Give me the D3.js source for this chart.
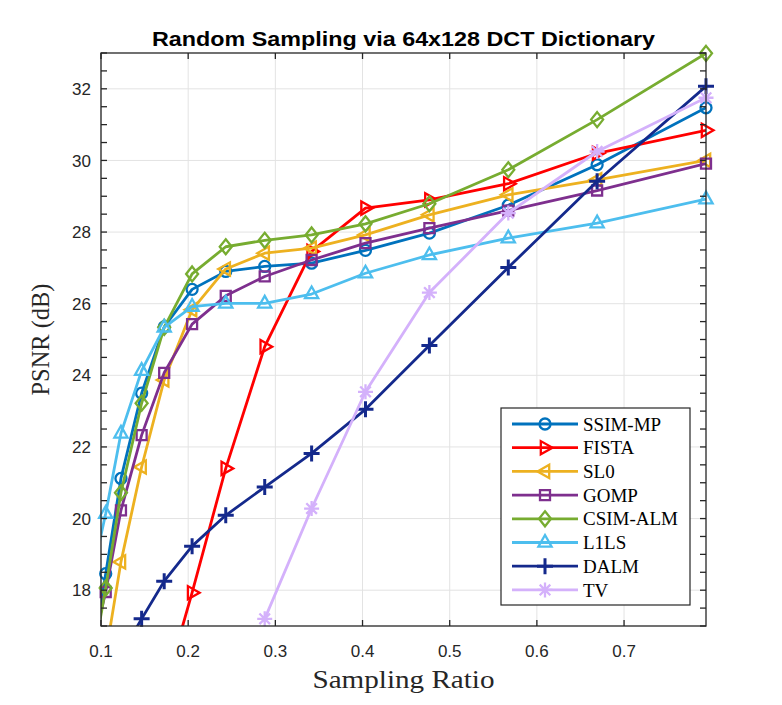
<!DOCTYPE html>
<html>
<head>
<meta charset="utf-8">
<script src="https://cdn.jsdelivr.net/npm/d3@7.9.0/dist/d3.min.js"></script>
<style>
  body { margin: 0; background: #fff; }
  svg { display: block; }
</style>
</head>
<body>
<svg id="chart" width="782" height="705"></svg>
<script>
// sampling ratios (shared x grid)
const ratio = [0.089, 0.1054, 0.1229, 0.1466, 0.1725, 0.2045, 0.2431, 0.2878, 0.3416, 0.4034, 0.4767, 0.5672, 0.6691, 0.794];

// PSNR per method, null = not measured
const ssimMP  = [16.0, 18.46, 21.12, 23.5, 25.35, 26.4, 26.9, 27.04, 27.13, 27.49, 27.97, 28.75, 29.88, 31.47];
const fista   = [null, null, null, null, 15.2, 17.93, 21.4, 24.8, 27.46, 28.67, 28.9, 29.35, 30.2, 30.84];
const sl0     = [null, 16.2, 18.79, 21.44, 23.87, 25.83, 26.97, 27.41, 27.55, 27.92, 28.48, 29.04, 29.46, 30.0];
const gomp    = [16.3, 17.95, 20.23, 22.33, 24.07, 25.43, 26.22, 26.76, 27.22, 27.69, 28.11, 28.6, 29.16, 29.91];
const csimALM = [15.8, 18.06, 20.72, 23.22, 25.34, 26.83, 27.59, 27.77, 27.92, 28.23, 28.79, 29.74, 31.14, 32.99];
const l1ls    = [18.3, 20.14, 22.38, 24.13, 25.34, 25.92, 26.01, 26.01, 26.27, 26.85, 27.36, 27.83, 28.25, 28.92];
const dalm    = [null, null, 16.2, 17.2, 18.25, 19.23, 20.09, 20.88, 21.82, 23.05, 24.83, 27.01, 29.42, 32.07];
const tv      = [null, null, null, null, null, null, null, 17.2, 20.28, 23.54, 26.31, 28.53, 30.25, 31.75];

const xTicks = [0.1, 0.2, 0.3, 0.4, 0.5, 0.6, 0.7];
const yTicks = [18, 20, 22, 24, 26, 28, 30, 32];

const methods = [
  { name: 'SSIM-MP',  values: ssimMP,  color: '#0072BD', marker: 'o' },
  { name: 'FISTA',    values: fista,   color: '#FF0000', marker: '>' },
  { name: 'SL0',      values: sl0,     color: '#EDB120', marker: '<' },
  { name: 'GOMP',     values: gomp,    color: '#7E2F8E', marker: 's' },
  { name: 'CSIM-ALM', values: csimALM, color: '#77AC30', marker: 'd' },
  { name: 'L1LS',     values: l1ls,    color: '#4DBEEE', marker: '^' },
  { name: 'DALM',     values: dalm,    color: '#14298C', marker: '+' },
  { name: 'TV',       values: tv,      color: '#D4B1FB', marker: '*' }
];

const plot = { left: 101, right: 706, top: 53, bottom: 626 };
const svg = d3.select('#chart');

const x = d3.scaleLinear().domain([0.1, 0.794]).range([plot.left, plot.right]);
const y = d3.scaleLinear().domain([17, 33]).range([plot.bottom, plot.top]);

function markerPath(m) {
  switch (m) {
    case 'o': return 'M5.5,0A5.5,5.5 0 1,1 -5.5,0A5.5,5.5 0 1,1 5.5,0Z';
    case 's': return 'M-5,-5H5V5H-5Z';
    case 'd': return 'M0,-7.5L6,0L0,7.5L-6,0Z';
    case '^': return 'M0,-7.5L6.6,4.2L-6.6,4.2Z';
    case '>': return 'M7.5,0L-4.2,-6.6L-4.2,6.6Z';
    case '<': return 'M-7.5,0L4.2,-6.6L4.2,6.6Z';
    case '+': return 'M-8,0H8M0,-8V8';
    case '*': return 'M-7.5,0H7.5M0,-7.5V7.5M-5.3,-5.3L5.3,5.3M-5.3,5.3L5.3,-5.3';
  }
}

// grid
svg.append('g').selectAll('line').data(xTicks).join('line')
  .attr('x1', d => x(d)).attr('x2', d => x(d)).attr('y1', plot.top).attr('y2', plot.bottom)
  .attr('stroke', '#e3e3e3').attr('stroke-width', 1);
svg.append('g').selectAll('line').data(yTicks).join('line')
  .attr('x1', plot.left).attr('x2', plot.right).attr('y1', d => y(d)).attr('y2', d => y(d))
  .attr('stroke', '#e3e3e3').attr('stroke-width', 1);

// series
svg.append('defs').append('clipPath').attr('id', 'plot-clip')
  .append('rect').attr('x', plot.left).attr('y', plot.top)
  .attr('width', plot.right - plot.left).attr('height', plot.bottom - plot.top);

const line = d3.line()
  .defined(d => d[1] != null)
  .x(d => x(d[0])).y(d => y(d[1]));

methods.forEach(m => {
  const pts = ratio.map((r, i) => [r, m.values[i]]);
  svg.append('path')
    .attr('d', line(pts))
    .attr('clip-path', 'url(#plot-clip)')
    .attr('fill', 'none')
    .attr('stroke', m.color)
    .attr('stroke-width', 2.8)
    .attr('stroke-linejoin', 'round');
  const visible = pts.filter(d => d[1] != null && d[0] >= 0.1 && d[1] >= 17 && d[1] <= 33.05);
  svg.append('g').selectAll('path').data(visible).join('path')
    .attr('transform', d => `translate(${x(d[0])},${y(d[1])})`)
    .attr('d', markerPath(m.marker))
    .attr('fill', 'none')
    .attr('stroke', m.color)
    .attr('stroke-width', m.marker === '+' ? 3 : 2.3);
});

// axes box and ticks
const axisColor = '#262626';
const tickLen = 6;
const ax = svg.append('g').attr('stroke', axisColor).attr('stroke-width', 1.3);
ax.append('rect').attr('x', plot.left).attr('y', plot.top)
  .attr('width', plot.right - plot.left).attr('height', plot.bottom - plot.top).attr('fill', 'none');
xTicks.forEach(t => {
  ax.append('line').attr('x1', x(t)).attr('x2', x(t)).attr('y1', plot.bottom).attr('y2', plot.bottom - tickLen);
  ax.append('line').attr('x1', x(t)).attr('x2', x(t)).attr('y1', plot.top).attr('y2', plot.top + tickLen);
});
d3.range(17, 33.01, 0.5).forEach(t => {
  ax.append('line').attr('x1', plot.left).attr('x2', plot.left + tickLen).attr('y1', y(t)).attr('y2', y(t));
  ax.append('line').attr('x1', plot.right).attr('x2', plot.right - tickLen).attr('y1', y(t)).attr('y2', y(t));
});

// tick labels
svg.append('g').selectAll('text').data(xTicks).join('text')
  .attr('x', d => x(d)).attr('y', 657)
  .attr('text-anchor', 'middle')
  .attr('font-family', 'Liberation Sans, Arial, sans-serif').attr('font-size', 17).attr('fill', axisColor)
  .text(d => d3.format('.1f')(d));
svg.append('g').selectAll('text').data(yTicks).join('text')
  .attr('x', plot.left - 10).attr('y', d => y(d)).attr('dy', '0.36em')
  .attr('text-anchor', 'end')
  .attr('font-family', 'Liberation Sans, Arial, sans-serif').attr('font-size', 17).attr('fill', axisColor)
  .text(d => d);

// title and axis labels
svg.append('text')
  .attr('x', (plot.left + plot.right) / 2).attr('y', 46)
  .attr('text-anchor', 'middle')
  .attr('font-family', 'Liberation Sans, Arial, sans-serif').attr('font-weight', 'bold').attr('font-size', 21)
  .attr('textLength', 503).attr('lengthAdjust', 'spacingAndGlyphs')
  .text('Random Sampling via 64x128 DCT Dictionary');
svg.append('text')
  .attr('x', (plot.left + plot.right) / 2).attr('y', 688)
  .attr('text-anchor', 'middle')
  .attr('font-family', 'Liberation Serif, DejaVu Serif, serif').attr('font-size', 25).attr('fill', axisColor)
  .attr('textLength', 182).attr('lengthAdjust', 'spacingAndGlyphs')
  .text('Sampling Ratio');
svg.append('text')
  .attr('transform', `translate(49,${(plot.top + plot.bottom) / 2}) rotate(-90)`)
  .attr('text-anchor', 'middle')
  .attr('font-family', 'Liberation Serif, DejaVu Serif, serif').attr('font-size', 25).attr('fill', axisColor)
  .attr('textLength', 112).attr('lengthAdjust', 'spacingAndGlyphs')
  .text('PSNR (dB)');

// legend
const lg = svg.append('g').attr('transform', 'translate(501,408)');
lg.append('rect').attr('width', 189).attr('height', 197)
  .attr('fill', '#fff').attr('stroke', axisColor).attr('stroke-width', 1.2);
methods.forEach((m, i) => {
  const cy = 16 + i * 23.7;
  lg.append('line').attr('x1', 11).attr('x2', 77).attr('y1', cy).attr('y2', cy)
    .attr('stroke', m.color).attr('stroke-width', 2.8);
  lg.append('path').attr('transform', `translate(44,${cy})`).attr('d', markerPath(m.marker))
    .attr('fill', 'none').attr('stroke', m.color).attr('stroke-width', m.marker === '+' ? 3 : 2.3);
  lg.append('text').attr('x', 82).attr('y', cy).attr('dy', '0.35em')
    .attr('font-family', 'Liberation Serif, DejaVu Serif, serif').attr('font-size', 19).attr('fill', '#000')
    .text(m.name);
});
</script>
</body>
</html>
